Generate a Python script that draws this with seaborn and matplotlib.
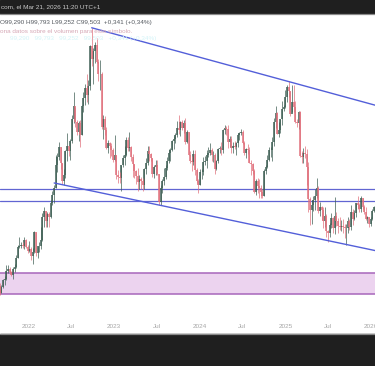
import matplotlib
matplotlib.use("Agg")
import matplotlib.pyplot as plt
import matplotlib.dates as mdates
import seaborn as sns
import pandas as pd
import numpy as np

# weekly candles, DXY, Sep 2021 - Jan 2026
closes_2021 = [92.1, 92.6, 93.2, 93.3, 94.0, 94.1, 93.9, 93.6, 94.1, 94.3, 95.1, 96.0, 96.1, 96.2, 96.1, 96.6, 96.0, 95.7]
highs_2021 = [92.9, 92.8, 93.3, 93.5, 94.5, 94.5, 94.3, 94.0, 94.3, 94.6, 95.3, 96.2, 96.9, 96.4, 96.4, 96.9, 96.7, 96.2]
lows_2021 = [91.9, 92.1, 92.5, 92.8, 93.2, 93.8, 93.8, 93.5, 93.3, 93.9, 94.2, 95.1, 95.9, 95.9, 95.9, 95.8, 95.9, 95.5]

closes_2022 = [95.8, 95.2, 95.6, 97.3, 95.5, 96.1, 96.1, 96.6, 98.6, 99.1, 98.2, 98.8, 98.6, 99.8, 100.5, 101.1, 103.0, 103.7,
               104.6, 103.2, 101.7, 102.2, 104.2, 104.7, 104.2, 105.1, 107.0, 108.1, 106.7, 105.9, 106.6, 105.6, 108.1, 108.8,
               109.6, 109.0, 109.8, 113.2, 112.1, 112.8, 113.3, 111.9, 110.8, 110.8, 106.3, 107.0, 106.0, 104.5, 104.9, 104.7,
               104.3, 103.5]
highs_2022 = [96.5, 96.0, 95.9, 97.4, 97.3, 96.1, 96.4, 97.7, 98.9, 99.4, 99.1, 99.0, 99.0, 100.0, 100.8, 101.3, 103.9, 104.1,
              105.0, 104.6, 103.2, 102.7, 104.3, 105.8, 104.6, 105.3, 107.3, 109.3, 108.0, 106.9, 106.8, 106.9, 108.2, 109.3,
              110.0, 110.8, 110.3, 113.3, 114.8, 113.1, 113.6, 113.9, 112.1, 112.0, 111.0, 107.3, 107.2, 106.3, 105.2, 105.0,
              104.9, 104.5]
lows_2022 = [95.6, 94.9, 94.6, 95.5, 95.2, 95.1, 95.6, 95.8, 96.5, 97.7, 97.7, 97.7, 97.7, 98.5, 99.6, 99.8, 101.1, 102.4,
             103.5, 102.7, 101.4, 101.3, 101.9, 103.4, 103.8, 103.5, 104.9, 106.6, 106.3, 105.6, 105.1, 104.6, 105.6, 107.6,
             108.2, 108.4, 108.3, 109.5, 111.5, 110.0, 111.8, 111.8, 110.2, 109.5, 106.1, 105.3, 105.6, 104.4, 104.1, 103.6,
             103.8, 103.3]

closes_2023 = [103.9, 102.2, 102.0, 101.9, 103.0, 103.6, 103.9, 105.2, 104.5, 104.6, 103.7, 103.1, 102.5, 102.1, 101.6, 101.8,
               101.7, 101.3, 102.7, 103.2, 104.2, 104.0, 103.6, 102.3, 102.9, 103.0, 102.3, 99.9, 101.1, 101.7, 102.0, 102.8,
               103.4, 104.1, 104.3, 105.1, 105.3, 105.6, 106.2, 106.0, 106.7, 106.2, 106.6, 105.0, 105.9, 103.9, 103.4, 103.3,
               104.0, 102.6, 101.7, 101.3]
highs_2023 = [105.6, 103.9, 102.6, 102.4, 103.0, 103.9, 104.7, 105.4, 105.4, 105.9, 104.7, 104.0, 103.1, 102.6, 102.8, 102.2,
              102.0, 101.9, 102.8, 103.6, 104.7, 104.7, 104.1, 103.6, 103.0, 103.5, 103.5, 102.3, 101.3, 101.8, 102.8, 103.0,
              103.7, 104.4, 104.5, 105.2, 105.5, 105.8, 106.8, 107.3, 106.8, 106.9, 106.9, 107.1, 106.0, 105.9, 104.2, 103.8,
              104.3, 104.3, 102.8, 101.8]
lows_2023 = [103.4, 101.8, 101.5, 101.5, 100.8, 102.9, 103.0, 103.8, 104.2, 104.2, 103.4, 102.0, 101.9, 101.4, 100.8, 101.0,
             101.0, 100.8, 101.0, 102.3, 103.0, 103.4, 103.4, 102.0, 101.9, 102.2, 102.2, 99.6, 99.6, 100.6, 101.3, 101.8,
             102.6, 103.2, 103.4, 104.2, 104.4, 104.9, 105.4, 105.7, 105.5, 106.0, 105.8, 104.8, 104.9, 103.9, 103.2, 102.5,
             103.0, 102.2, 101.5, 100.6]

closes_2024 = [102.4, 102.4, 103.3, 103.4, 103.9, 104.1, 104.3, 103.9, 103.9, 102.7, 103.4, 104.4, 104.5, 104.3, 106.0, 106.2,
               106.1, 105.0, 105.3, 104.5, 104.7, 104.6, 104.9, 105.6, 105.8, 105.9, 104.9, 104.1, 104.4, 104.3, 103.2, 103.1,
               102.5, 100.7, 101.7, 101.2, 101.1, 100.7, 100.4, 102.5, 102.9, 103.5, 104.3, 104.3, 105.0, 106.7, 107.5, 105.7,
               106.0, 107.0, 107.8, 108.0]
highs_2024 = [102.7, 102.7, 103.7, 103.8, 104.3, 104.6, 104.9, 104.5, 104.2, 104.1, 103.5, 104.5, 104.7, 105.0, 106.1, 106.5,
              106.4, 106.5, 105.5, 105.5, 105.0, 105.1, 105.0, 105.8, 105.9, 106.1, 106.0, 105.1, 104.5, 104.8, 104.6, 103.5,
              103.2, 102.7, 101.8, 101.9, 101.8, 101.3, 101.0, 102.7, 103.0, 103.9, 104.6, 104.6, 105.4, 107.1, 108.1, 107.6,
              106.7, 107.0, 108.5, 108.2]
lows_2024 = [101.3, 101.8, 102.2, 103.0, 102.8, 103.7, 103.9, 103.4, 103.3, 102.3, 102.6, 103.2, 104.1, 103.9, 104.1, 105.7,
             105.6, 104.5, 104.6, 104.1, 104.1, 104.4, 103.9, 104.6, 105.2, 105.6, 104.8, 103.9, 103.6, 104.0, 103.2, 102.2,
             102.3, 100.6, 100.5, 100.6, 100.2, 100.2, 100.2, 100.4, 102.3, 102.8, 103.4, 103.7, 103.4, 104.7, 106.2, 105.7,
             105.4, 105.8, 106.5, 107.7]

closes_2025 = [108.9, 109.7, 109.4, 107.4, 108.4, 108.0, 106.7, 106.6, 107.6, 103.8, 103.7, 104.1, 104.0, 102.9, 100.1, 99.2,
               99.6, 100.0, 100.4, 101.1, 99.1, 99.4, 99.2, 98.2, 98.7, 97.4, 97.2, 97.9, 98.5, 97.6, 98.7, 98.2, 97.8, 97.7,
               97.8, 97.7, 97.6, 97.6, 98.2, 97.7, 99.0, 98.4, 98.9, 99.8, 99.6, 99.3, 100.2, 99.4, 99.0, 98.4, 98.6, 98.0]
highs_2025 = [109.5, 109.9, 110.2, 109.4, 109.9, 109.9, 108.5, 107.0, 107.7, 107.7, 104.2, 104.5, 104.7, 104.4, 103.3, 100.3,
              100.0, 100.4, 101.0, 101.9, 101.2, 99.9, 99.5, 99.4, 99.4, 98.8, 97.5, 98.1, 98.9, 98.6, 100.3, 99.0, 98.5, 98.6,
              98.3, 98.4, 98.0, 98.0, 98.6, 98.4, 99.6, 99.3, 99.2, 99.8, 100.4, 99.8, 100.4, 100.2, 99.6, 99.4, 98.7, 98.6]
lows_2025 = [107.9, 108.4, 108.9, 107.2, 107.6, 107.6, 106.6, 106.3, 106.1, 103.7, 103.2, 103.2, 103.6, 101.3, 99.0, 97.9,
             98.0, 99.1, 99.2, 100.2, 98.9, 98.7, 98.3, 97.6, 97.7, 96.9, 96.4, 96.9, 97.6, 97.2, 97.1, 97.8, 97.2, 97.5,
             97.4, 97.2, 96.8, 96.2, 97.2, 97.5, 97.5, 97.9, 98.3, 98.6, 99.3, 99.0, 99.0, 99.3, 98.8, 98.3, 98.1, 97.7]

closes_2026 = [98.4, 99.1, 99.4]
highs_2026 = [98.6, 99.3, 99.5]
lows_2026 = [97.8, 98.3, 99.0]

first_open = 92.7

# drawings
h_levels = [100.96, 99.93]
zone = [91.96, 93.76]
upper_trend = [("2022-09-28", 114.8), ("2025-01-13", 110.2)]
lower_trend = [("2022-04-21", 101.5), ("2023-07-14", 99.6)]

tick_dates = ["2022-01-01", "2022-07-01", "2023-01-01", "2023-07-01", "2024-01-01",
              "2024-07-01", "2025-01-01", "2025-07-01", "2026-01-01"]
tick_labels = ["2022", "Jul", "2023", "Jul", "2024", "Jul", "2025", "Jul", "2026"]

closes = closes_2021 + closes_2022 + closes_2023 + closes_2024 + closes_2025 + closes_2026
highs = highs_2021 + highs_2022 + highs_2023 + highs_2024 + highs_2025 + highs_2026
lows = lows_2021 + lows_2022 + lows_2023 + lows_2024 + lows_2025 + lows_2026

df = pd.DataFrame({"date": pd.date_range("2021-09-01", periods=len(closes), freq="W-WED"),
                   "close": closes, "high": highs, "low": lows})
df["open"] = df["close"].shift(1).fillna(first_open)
df["x"] = mdates.date2num(df["date"])
df["up"] = df["close"] >= df["open"]

sns.set_style("white")
plt.rcParams["font.family"] = ["Liberation Sans", "DejaVu Sans"]

W, H = 375, 366
fig = plt.figure(figsize=(W / 100, H / 100), dpi=100)
ax = fig.add_axes([0, 48 / H, 1, 304 / H])

x0 = mdates.date2num(pd.Timestamp("2021-09-02"))
x1 = mdates.date2num(pd.Timestamp("2026-01-18"))
ax.set_xlim(x0, x1)
ax.set_ylim(89.93, 115.98)

# zone
ax.axhspan(zone[0], zone[1], color="#ecd3ef", lw=0, zorder=1)
for z in zone:
    ax.axhline(z, color="#a766bb", lw=1.1, zorder=2)

# horizontal levels
for lv in h_levels:
    ax.axhline(lv, color="#6165d2", lw=0.9, zorder=2)

# candles
up_c, dn_c = "#3f5f55", "#e0707c"
for is_up, col in [(True, up_c), (False, dn_c)]:
    d = df[df["up"] == is_up]
    ax.vlines(d["x"], d["low"], d["high"], color=col, lw=0.5, zorder=3)
    ax.vlines(d["x"], d["open"], d["close"], color=col, lw=1.1, zorder=3)

# trendlines (extended to the right edge)
def trend(pts):
    (d1, p1), (d2, p2) = pts
    t1 = mdates.date2num(pd.Timestamp(d1))
    t2 = mdates.date2num(pd.Timestamp(d2))
    pe = p1 + (p2 - p1) * (x1 + 30 - t1) / (t2 - t1)
    return pd.DataFrame({"x": [t1, x1 + 30], "y": [p1, pe]})

for pts in [upper_trend, lower_trend]:
    sns.lineplot(data=trend(pts), x="x", y="y", ax=ax, color="#535fd9", lw=1.0, zorder=4)

for s in ax.spines.values():
    s.set_visible(False)
ax.set_xlabel("")
ax.set_ylabel("")
ax.set_yticks([])
ax.set_xticks(mdates.date2num(pd.to_datetime(tick_dates)))
ax.set_xticklabels(tick_labels, fontsize=4.6, color="#a6a6a6")
ax.tick_params(axis="x", length=0, pad=4.5)

# header / footer bars
fig.patches.append(plt.Rectangle((0, 1 - 13 / H), 1, 13 / H, transform=fig.transFigure,
                                 color="#1f1f1f", zorder=0))
fig.lines.append(plt.Line2D([0, 1], [1 - 13.5 / H] * 2, transform=fig.transFigure,
                            color="#8a8a8a", lw=0.9))
fig.patches.append(plt.Rectangle((0, 0), 1, 32 / H, transform=fig.transFigure,
                                 color="#1f1f1f", zorder=0))
fig.lines.append(plt.Line2D([0, 1], [32.5 / H] * 2, transform=fig.transFigure,
                            color="#8a8a8a", lw=0.9))

fig.text(1 / W, 1 - 7 / H, "com, el Mar 21, 2026 11:20 UTC+1", fontsize=4.6,
         color="#c8c8c8", va="center", ha="left")
fig.text(0 / W, 1 - 22.7 / H, "O99,290 H99,793 L99,252 C99,503  +0,341 (+0,34%)",
         fontsize=4.6, color="#555a60", va="center", ha="left")
fig.text(0.5 / W, 1 - 31 / H, "ona datos sobre el volumen para este símbolo.",
         fontsize=4.6, color="#d6a8b6", va="center", ha="left")
fig.text(10 / W, 1 - 38.5 / H, "99,290   99,793   99,252   99,503   +0,341 (+0,34%)",
         fontsize=4.6, color="#d4f4f8", va="center", ha="left")

fig.savefig("out.png", dpi=100)
